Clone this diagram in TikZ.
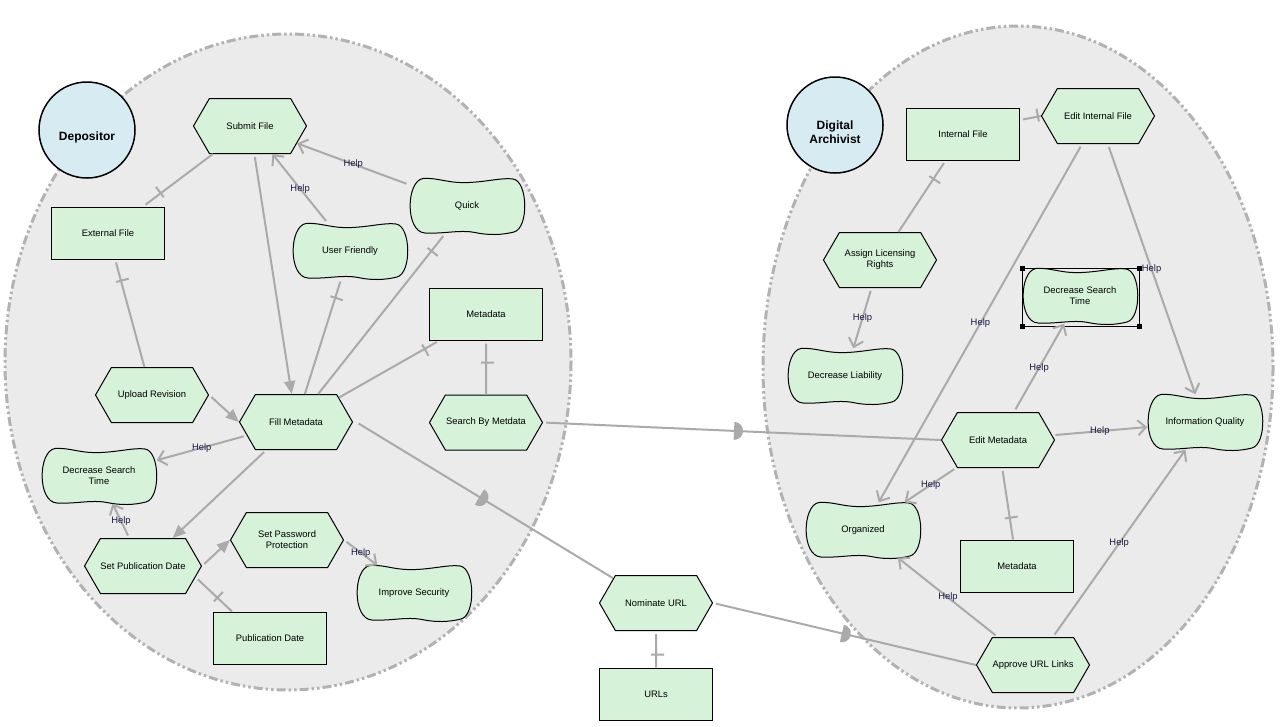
\documentclass[tikz,border=0pt]{standalone}
\usepackage{fontspec}
\setmainfont{Liberation Sans}
\usepackage{tikz}
\usetikzlibrary{positioning,shapes.symbols,arrows.meta,decorations.markings,backgrounds}

\definecolor{goalgreen}{RGB}{214,242,217}
\definecolor{actorblue}{RGB}{215,236,242}
\definecolor{boundgray}{RGB}{235,235,235}
\definecolor{dashgray}{RGB}{178,178,178}
\definecolor{linkgray}{RGB}{170,170,170}
\definecolor{helpblue}{RGB}{25,25,70}

\tikzset{
  base/.style={font=\fontsize{9.4}{11}\selectfont, text centered, align=center, inner sep=0pt},
  task/.style={base, shape=signal, signal to=west and east, signal pointer angle=120, draw=black, line width=1pt, fill=goalgreen, minimum width=113pt, minimum height=55pt},
  resource/.style={base, rectangle, draw=black, line width=1pt, fill=goalgreen, minimum width=113pt, minimum height=52pt},
  softgoal/.style={base, rectangle, minimum width=115pt, minimum height=55pt},
  actor/.style={circle, draw=black, line width=1.5pt, fill=actorblue, minimum size=96pt, inner sep=0pt,
    label={[font=\fontsize{12}{14}\selectfont\bfseries, align=center, yshift=-7pt]center:#1}},
  boundary/.style={draw=dashgray, fill=boundgray, line width=3pt, dash pattern=on 9pt off 3pt on 2.5pt off 3pt on 2.5pt off 3pt},
  softline/.style={draw=black, fill=goalgreen, line width=1pt},
  link/.style={draw=linkgray, line width=2pt, shorten <=3pt},
  means/.style={link, -{Triangle[length=13pt, width=11pt]}},
  help/.style={link, -{Straight Barb[length=8pt, width=15pt, line width=2pt]}},
  helplabel/.style={font=\fontsize{9.4}{11}\selectfont, text=helpblue, inner sep=0pt},
  barmark/.style={postaction={decorate, decoration={markings, mark=at position #1 with {\draw[linkgray, line width=2pt] (0pt,-8pt) -- (0pt,8pt);}}}},
  dmark/.style={postaction={decorate, decoration={markings, mark=at position #1 with {\fill[linkgray] (0pt,-9pt) arc[start angle=-90, end angle=90, radius=9pt] -- cycle;}}}}
}

\begin{document}
\begin{tikzpicture}[x=1pt, y=-1pt]
\useasboundingbox (0,0) rectangle (1284,726);

% nodes %

%Depositor%
\node[actor={Depositor}] (dep) at (87,130) {};
\node[task] (sub) at (250,126) {Submit File};
\node[resource] (extf) at (108,233) {External File};
\node[softgoal] (ufr) at (350,251) {User Friendly};
\node[softgoal] (quick) at (467,206) {Quick};
\node[resource] (meta) at (486,314) {Metadata};
\node[task, below=54pt of meta] (sbm) {Search By Metdata};
\node[task] (upl) at (152,395) {Upload Revision};
\node[task] (fill) at (296,422) {Fill Metadata};
\node[softgoal] (dst) at (99,476) {Decrease Search\\Time};
\node[task] (spd) at (143,566) {Set Publication Date};
\node[task] (spw) at (287,540) {Set Password\\Protection};
\node[softgoal] (imps) at (414,593) {Improve Security};
\node[resource] (pubd) at (270,638) {Publication Date};

%between%
\node[task] (nom) at (656,603) {Nominate URL};
\node[resource, below=36.5pt of nom] (urls) {URLs};

%Digital Archivist%
\node[actor={Digital\\Archivist}] (darch) at (835,125) {};
\node[resource] (intf) at (963,134) {Internal File};
\node[task] (eif) at (1098,116) {Edit Internal File};
\node[task] (alr) at (880,260) {Assign Licensing\\Rights};
\node[softgoal] (dst2) at (1080,296) {Decrease Search\\Time};
\node[softgoal] (dlia) at (845,376) {Decrease Liability};
\node[softgoal] (infq) at (1205,422) {Information Quality};
\node[task] (edm) at (998,440) {Edit Metadata};
\node[softgoal] (orgz) at (863,530) {Organized};
\node[resource] (meta2) at (1017,566) {Metadata};
\node[task] (aul) at (1033,665) {Approve URL Links};

% boundaries and softgoal outlines %
\begin{scope}[on background layer]
\draw[boundary] (288,362) ellipse [x radius=283, y radius=328];
\draw[boundary] (1018,367) ellipse [x radius=255, y radius=341];
\foreach \g in {ufr,quick,dst,imps,dst2,dlia,infq,orgz}{
  \begin{scope}[shift={(\g.center)}]
  \draw[softline] (-44,-27.5) .. controls (-28,-28.5) and (-20,-22.5) .. (2,-23.5)
    .. controls (22,-24.5) and (35,-28.5) .. (46,-27)
    .. controls (61,-25) and (62,22) .. (47,26)
    .. controls (35,29) and (22,29.5) .. (8,26.5)
    .. controls (-8,23.5) and (-22,28) .. (-42,27)
    .. controls (-62,26) and (-61,-25) .. (-44,-27.5) -- cycle;
  \end{scope}
}
\end{scope}

% selection frame %
\draw[black, line width=0.8pt] ([shift={(-58,-28)}]dst2.center) rectangle ([shift={(59,30)}]dst2.center);
\foreach \cx/\cy in {-58/-28, 59/-28, -58/30, 59/30}
  \fill[black] ([shift={(\cx-2.5,\cy-2.5)}]dst2.center) rectangle ++(5,5);

% edges %

%Submit File%
\draw[means] (sub) -- (fill);

%External File%
\draw[link, barmark=22pt] (extf) -- (sub);
\draw[link, barmark=22pt] (extf) -- (upl);

%User Friendly%
\draw[help] (ufr) -- node[helplabel] {Help} (sub);
\draw[link, barmark=20pt] (ufr) -- (fill);

%Quick%
\draw[help] (quick) -- node[helplabel] {Help} (sub);
\draw[link, barmark=22pt] (quick) -- (fill);

%Metadata%
\draw[link, barmark=17pt] (meta) -- (fill);
\draw[link, barmark=22pt] (meta) -- (sbm);

%Upload Revision%
\draw[means] (upl.east) -- (fill.west);

%Fill Metadata%
\draw[help] (fill) -- node[helplabel] {Help} (dst);
\draw[means] (fill) -- (spd);
\draw[link, dmark=.48] ([xshift=3pt]fill.east) -- (nom.150);

%Set Publication Date%
\draw[help] (spd) -- node[helplabel] {Help} (dst);
\draw[means] (spd.east) -- (spw.west);
\draw[link, barmark=.6] (spd.-12) -- ([xshift=19pt]pubd.north west);

%Set Password Protection%
\draw[help] (spw.east) -- node[helplabel] {Help} ([xshift=21pt]imps.north west);

%Search By Metdata%
\draw[link, dmark=.48] (sbm.east) -- (edm.west);

%Nominate URL%
\draw[link, barmark=.65] (nom) -- (urls);
\draw[link, dmark=.49] (nom.east) -- (aul.west);

%Internal File%
\draw[link, barmark=-3pt] ([yshift=14pt]intf.east) -- (eif.west);
\draw[link, barmark=22pt] (intf) -- (alr);

%Assign Licensing Rights%
\draw[help] (alr) -- node[helplabel] {Help} (dlia);

%Edit Internal File%
\draw[help] (eif) -- node[helplabel] {Help} (orgz);
\draw[help] (eif) -- node[helplabel] {Help} (infq);

%Edit Metadata%
\draw[help] (edm) -- node[helplabel] {Help} (dst2);
\draw[help] (edm) -- node[helplabel] {Help} (infq);
\draw[help] (edm) -- node[helplabel] {Help} (orgz);
\draw[link, barmark=-22pt] (edm) -- (meta2);

%Approve URL Links%
\draw[help] (aul) -- node[helplabel] {Help} (orgz);
\draw[help] (aul) -- node[helplabel] {Help} (infq);

\end{tikzpicture}
\end{document}
